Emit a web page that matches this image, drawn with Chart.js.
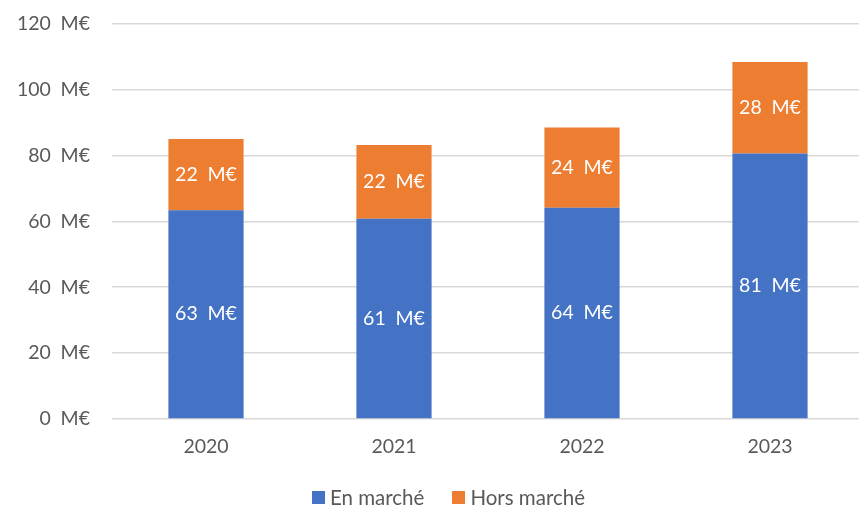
<!DOCTYPE html>
<html>
<head>
<meta charset="utf-8">
<script src="https://cdn.jsdelivr.net/npm/chart.js@4"></script>
<style>
  html, body { margin: 0; padding: 0; background: #fff; overflow: hidden; }
  #wrap { width: 866px; height: 518px; position: relative; top: -10px; }
  #legend { position: absolute; left: 312px; top: 495px; display: flex; align-items: center;
            font: 20.5px Lato, sans-serif; color: #595959; white-space: nowrap; }
  #legend .item { display: flex; align-items: center; margin-right: 28px; }
  #legend .box { width: 13px; height: 13px; margin-right: 5px; }
</style>
</head>
<body>
<div id="wrap"><canvas id="chart"></canvas><div id="legend"></div></div>
<script>
// ── Data (M€) ────────────────────────────────────────────────
const years = ['2020', '2021', '2022', '2023'];
const enMarche = [63.4, 60.8, 64.1, 80.6];
const horsMarche = [21.6, 22.4, 24.4, 27.8];
const yTicks = [0, 20, 40, 60, 80, 100, 120];

const FONT = 'Lato';
const GREY = '#595959';
const UNIT = '\u2002M€';

// white value labels centred in each segment
const barLabels = {
  id: 'barLabels',
  afterDatasetsDraw(chart) {
    const ctx = chart.ctx;
    ctx.save();
    ctx.font = `19.5px ${FONT}`;
    ctx.fillStyle = '#ffffff';
    ctx.textAlign = 'center';
    ctx.textBaseline = 'middle';
    chart.data.datasets.forEach((ds, i) => {
      chart.getDatasetMeta(i).data.forEach((bar, j) => {
        const p = bar.getProps(['x', 'y', 'base'], true);
        ctx.fillText(Math.round(ds.data[j]) + UNIT, p.x, (p.y + p.base) / 2);
      });
    });
    ctx.restore();
  }
};

const chart = new Chart(document.getElementById('chart').getContext('2d'), {
  type: 'bar',
  data: {
    labels: years,
    datasets: [
      { label: 'En marché', data: enMarche, backgroundColor: '#4472C4', barPercentage: 0.4, categoryPercentage: 1 },
      { label: 'Hors marché', data: horsMarche, backgroundColor: '#ED7D31', barPercentage: 0.4, categoryPercentage: 1 }
    ]
  },
  options: {
    responsive: true, maintainAspectRatio: false, animation: false,
    layout: { padding: { top: 0, right: 2, bottom: 0, left: 0 } },
    plugins: { tooltip: { enabled: false }, legend: { display: false } },
    scales: {
      x: {
        stacked: true,
        grid: { display: false },
        border: { display: false },
        ticks: { color: GREY, font: { family: FONT, size: 19.5 }, padding: 8 },
        afterFit: s => { s.height = 89; }
      },
      y: {
        stacked: true,
        min: 0, max: 120,
        afterBuildTicks: s => { s.ticks = yTicks.map(v => ({ value: v })); },
        grid: { color: '#d9d9d9', lineWidth: 1.5, drawTicks: false },
        border: { display: false },
        ticks: { color: GREY, font: { family: FONT, size: 19.5 }, padding: 22, callback: v => v + UNIT },
        afterFit: s => { s.width = 112; }
      }
    }
  },
  plugins: [barLabels]
});

// legend built from the datasets
document.getElementById('legend').innerHTML = chart.data.datasets.map(ds =>
  `<div class="item"><span class="box" style="background:${ds.backgroundColor}"></span>${ds.label}</div>`
).join('');
</script>
</body>
</html>
